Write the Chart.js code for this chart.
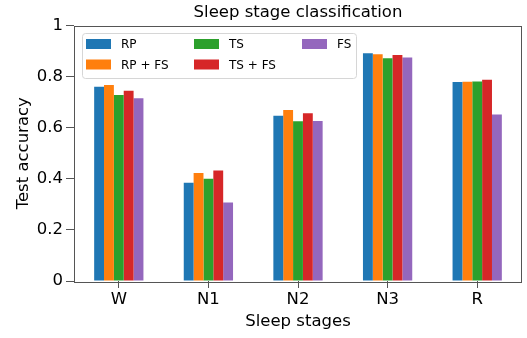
<!DOCTYPE html>
<html>
<head>
<meta charset="utf-8">
<script src="https://cdn.jsdelivr.net/npm/chart.js@4/dist/chart.umd.min.js"></script>
<style>
  body { margin: 0; background: #fff; }
  #wrap { width: 527px; height: 338px; }
</style>
</head>
<body>
<div id="wrap"><canvas id="chart" width="527" height="338"></canvas></div>
<script>
// Sleep stage accuracy per feature set
const stages = ['W', 'N1', 'N2', 'N3', 'R'];
const seriesNames = ['RP', 'RP + FS', 'TS', 'TS + FS', 'FS'];
const rpAcc = [0.760, 0.385, 0.647, 0.891, 0.779];
const rpFsAcc = [0.767, 0.423, 0.669, 0.887, 0.780];
const tsAcc = [0.728, 0.400, 0.625, 0.872, 0.781];
const tsFsAcc = [0.745, 0.432, 0.657, 0.885, 0.788];
const fsAcc = [0.715, 0.307, 0.626, 0.875, 0.652];
const yTickLabels = ['0', '0.2', '0.4', '0.6', '0.8', '1'];
const chartTitle = 'Sleep stage classification';

const colors = ['#1f77b4', '#ff7f0e', '#2ca02c', '#d62728', '#9467bd'];
const allSeries = [rpAcc, rpFsAcc, tsAcc, tsFsAcc, fsAcc];

const font = 'DejaVu Sans';
const axisColor = '#555';

// matplotlib-style frame, title over the axes, column-major legend
const framePlugin = {
    id: 'frame',
    afterDraw(chart) {
        const { ctx, chartArea: a } = chart;
        ctx.save();
        ctx.strokeStyle = axisColor;
        ctx.lineWidth = 1;
        ctx.strokeRect(Math.round(a.left) + 0.5, Math.round(a.top) + 0.5,
            Math.round(a.right - a.left) - 1, Math.round(a.bottom - a.top));

        // title centred on the plot area
        ctx.font = '16.5px "' + font + '"';
        ctx.fillStyle = '#000';
        ctx.textAlign = 'center';
        ctx.textBaseline = 'middle';
        ctx.fillText(chartTitle, (a.left + a.right) / 2, 12.5);

        // legend box
        const bx = 82, by = 33, bw = 274, bh = 45, r = 3;
        ctx.beginPath();
        ctx.roundRect(bx + 0.5, by + 0.5, bw, bh, r);
        ctx.fillStyle = 'rgba(255,255,255,0.8)';
        ctx.fill();
        ctx.strokeStyle = '#d6d6d6';
        ctx.stroke();

        ctx.font = '12px "' + font + '"';
        ctx.textBaseline = 'middle';
        ctx.textAlign = 'left';
        const colX = [86, 194, 302];
        const rowY = [44, 64.5];
        chart.data.datasets.forEach((ds, i) => {
            const x = colX[Math.floor(i / 2)];
            const y = rowY[i % 2];
            ctx.fillStyle = ds.backgroundColor;
            ctx.fillRect(x, y - 5, 25, 10);
            ctx.fillStyle = '#000';
            ctx.fillText(ds.label, x + 35, y + 1);
        });
        ctx.restore();
    }
};

new Chart(document.getElementById('chart'), {
    type: 'bar',
    data: {
        labels: stages,
        datasets: seriesNames.map((name, i) => ({
            label: name,
            data: allSeries[i],
            backgroundColor: colors[i],
            borderWidth: 0,
            barPercentage: 1,
            categoryPercentage: 0.55
        }))
    },
    options: {
        responsive: false,
        animation: false,
        layout: { padding: { left: 0, right: 5, top: 25.5, bottom: 0 } },
        plugins: {
            legend: { display: false },
            tooltip: { enabled: false },
            title: { display: false }
        },
        scales: {
            x: {
                afterFit(s) { s.height = 57; },
                grid: {
                    display: true, drawOnChartArea: false, offset: false,
                    tickLength: 7, tickColor: axisColor
                },
                border: { display: false },
                ticks: { color: '#000', padding: 2, font: { family: font, size: 16.5 } },
                title: {
                    display: true, text: 'Sleep stages', color: '#000',
                    font: { family: font, size: 16.5 }, padding: { top: 0, bottom: 6 }
                }
            },
            y: {
                min: 0, max: 1,
                afterFit(s) { s.width = 74; },
                grid: {
                    display: true, drawOnChartArea: false,
                    tickLength: 8, tickColor: axisColor
                },
                border: { display: false },
                ticks: {
                    stepSize: 0.2, color: '#000', padding: 3,
                    font: { family: font, size: 16.5 },
                    callback: (v, i) => yTickLabels[i]
                },
                title: {
                    display: true, text: 'Test accuracy', color: '#000',
                    font: { family: font, size: 16.5 }, padding: { top: 14, bottom: 0 }
                }
            }
        }
    },
    plugins: [framePlugin]
});
</script>
</body>
</html>
